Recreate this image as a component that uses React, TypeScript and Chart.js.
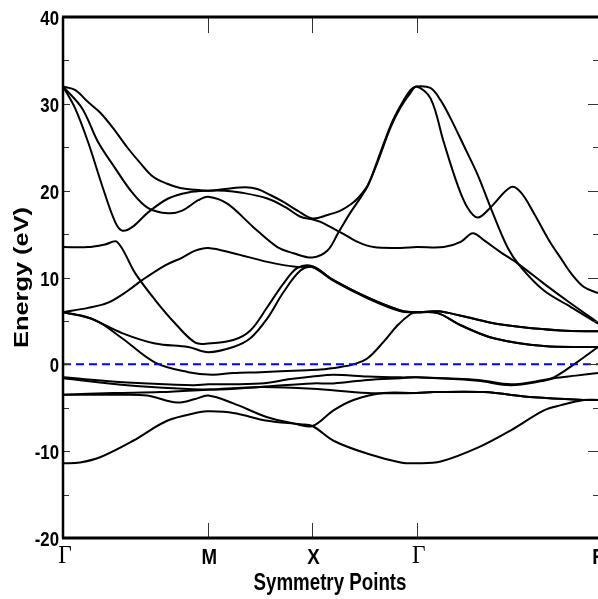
import React, { useEffect, useRef } from "react";
import { Chart, registerables } from "chart.js";

Chart.register(...registerables);

// ---- Axis data ----
const kPointPositions = [0, 1.45, 2.49, 3.53, 5.34];
const kPointLabels = ["Γ", "M", "X", "Γ", "R"];
const energyTicks = [-20, -10, 0, 10, 20, 30, 40];
const energyMinorTicks = [-15, -5, 5, 15, 25, 35];
const fermiLevel = 0;
const xTitle = "Symmetry Points";
const yTitle = "Energy (eV)";

// ---- Bands: [k, E(eV)] ----
const band1 = [[0,32.0],[0.12,31.6],[0.25,30.2],[0.37,29.0],[0.50,27.2],[0.64,25.0],[0.77,23.2],[0.90,21.6],[1.04,20.8],[1.17,20.3],[1.32,20.1],[1.45,20.0],[1.62,20.2],[1.82,20.4],[1.94,20.2],[2.07,19.5],[2.20,18.7],[2.34,17.7],[2.49,16.8],[2.64,17.2],[2.77,17.7],[2.87,18.4],[2.94,19.1],[3.04,20.6],[3.14,23.5],[3.27,27.5],[3.37,29.8],[3.47,31.6],[3.53,32.0],[3.67,31.8],[3.77,30.4],[3.87,28.3],[4.00,25.2],[4.14,21.8],[4.27,18.0],[4.44,13.4],[4.57,11.2],[4.80,8.5],[5.07,6.6],[5.34,4.7]];
const band2 = [[0,32.0],[0.12,29.5],[0.25,25.6],[0.39,20.6],[0.52,16.4],[0.59,15.4],[0.69,15.8],[0.85,17.5],[1.05,19.1],[1.25,19.8],[1.45,20.0],[1.62,20.0],[1.77,19.8],[2.04,19.1],[2.22,18.1],[2.37,17.0],[2.49,16.7],[2.57,16.4],[2.77,15.2],[2.94,14.1],[3.10,13.5],[3.37,13.4],[3.53,13.5],[3.80,13.5],[3.97,14.1],[4.09,15.1],[4.20,14.3],[4.37,12.9],[4.54,11.6],[4.80,9.3],[5.07,7.0],[5.34,4.8]];
const band3 = [[0,32.0],[0.19,29.5],[0.35,25.6],[0.52,22.6],[0.69,19.8],[0.85,18.0],[1.05,17.4],[1.19,17.7],[1.35,18.9],[1.45,19.3],[1.64,18.5],[1.90,15.8],[2.14,13.5],[2.30,12.8],[2.49,12.3],[2.64,13.1],[2.75,15.2],[2.87,17.5],[2.97,19.2],[3.04,20.5],[3.14,23.3],[3.27,27.3],[3.37,29.6],[3.47,31.3],[3.53,32.0],[3.67,30.6],[3.80,25.6],[3.94,20.6],[4.04,18.0],[4.14,16.9],[4.27,18.1],[4.47,20.4],[4.57,19.8],[4.70,17.4],[4.85,14.3],[4.97,12.2],[5.07,10.5],[5.20,8.9],[5.34,8.2]];
const band4 = [[0,13.5],[0.25,13.5],[0.42,13.8],[0.54,14.1],[0.72,10.5],[0.92,7.4],[1.12,4.7],[1.32,2.5],[1.45,2.4],[1.70,2.8],[1.87,3.9],[2.04,6.6],[2.20,9.3],[2.34,11.1],[2.49,11.3],[2.70,9.7],[3.04,7.7],[3.37,6.2],[3.53,6.0],[3.74,6.1],[3.97,5.6],[4.27,4.8],[4.57,4.3],[4.97,3.9],[5.34,3.8]];
const band5 = [[0,6.0],[0.25,6.5],[0.45,7.1],[0.65,8.5],[0.79,9.7],[1.02,11.4],[1.19,12.3],[1.32,13.1],[1.45,13.4],[1.70,12.8],[2.04,11.8],[2.34,11.2],[2.49,11.2],[2.70,9.6],[3.04,7.6],[3.37,6.1],[3.53,6.0],[3.74,5.9],[3.97,4.5],[4.30,3.0],[4.80,2.1],[5.34,2.0]];
const band6 = [[0,6.0],[0.25,5.4],[0.59,3.6],[0.92,2.4],[1.25,2.0],[1.45,1.4],[1.70,2.0],[1.87,3.0],[2.04,5.3],[2.20,8.3],[2.37,10.8],[2.49,11.2],[2.70,9.7],[3.04,7.7],[3.37,6.2],[3.53,6.0],[3.74,6.1],[3.97,5.6],[4.27,4.8],[4.57,4.3],[4.97,3.9],[5.34,3.8]];
const band7 = [[0,6.0],[0.32,5.1],[0.59,3.0],[0.92,0.2],[1.25,-0.9],[1.49,-1.2],[1.70,-1.0],[1.97,-0.9],[2.37,-0.7],[2.57,-0.6],[2.77,-0.3],[2.90,0.0],[3.04,0.7],[3.20,2.6],[3.34,4.5],[3.47,5.8],[3.53,6.0],[3.74,5.9],[3.97,4.5],[4.30,3.0],[4.80,2.1],[5.34,2.0]];
const band8 = [[0,-1.5],[0.64,-2.1],[1.30,-2.4],[1.45,-2.3],[1.97,-2.2],[2.27,-1.7],[2.49,-1.4],[2.70,-1.2],[3.04,-1.4],[3.37,-1.5],[3.53,-1.5],[4.14,-1.8],[4.47,-2.3],[4.80,-1.8],[4.90,-1.5],[5.10,0.0],[5.34,2.0]];
const band9 = [[0,-1.6],[0.64,-2.4],[1.47,-2.9],[1.97,-2.6],[2.49,-2.2],[2.70,-2.2],[3.04,-1.8],[3.37,-1.6],[3.53,-1.5],[4.14,-1.9],[4.47,-2.4],[4.80,-1.9],[4.90,-1.6],[5.12,-1.3],[5.34,-1.0]];
const band10 = [[0,-3.5],[0.50,-3.3],[0.97,-3.2],[1.47,-2.9],[1.97,-2.6],[2.49,-2.8],[3.04,-3.3],[3.53,-3.3],[3.70,-3.2],[4.20,-3.2],[4.70,-3.8],[5.20,-4.1],[5.34,-4.1]];
const band11 = [[0,-3.5],[0.57,-3.5],[0.84,-3.6],[1.14,-4.4],[1.32,-4.0],[1.45,-3.6],[1.70,-4.5],[2.04,-6.1],[2.30,-6.8],[2.49,-7.1],[2.70,-5.3],[2.90,-4.1],[3.20,-3.3],[3.53,-3.3],[3.70,-3.2],[4.20,-3.2],[4.70,-3.8],[5.20,-4.1],[5.34,-4.1]];
const band12 = [[0,-11.4],[0.17,-11.3],[0.37,-10.7],[0.70,-8.8],[1.04,-6.5],[1.37,-5.5],[1.45,-5.4],[1.70,-5.6],[2.04,-6.5],[2.37,-6.9],[2.49,-7.1],[2.70,-8.8],[3.04,-10.3],[3.37,-11.3],[3.53,-11.4],[3.77,-11.2],[4.14,-9.6],[4.47,-7.6],[4.80,-5.3],[4.97,-4.7],[5.20,-4.1],[5.34,-4.1]];

const bands = [band1, band2, band3, band4, band5, band6, band7, band8, band9, band10, band11, band12];

function drawText(ctx: CanvasRenderingContext2D, text: string, x: number, y: number, font: string, sx: number, align: CanvasTextAlign, targetWidth?: number, rotate?: boolean) {
  ctx.save();
  ctx.font = font;
  let s = sx;
  if (targetWidth) s = targetWidth / ctx.measureText(text).width;
  ctx.translate(x, y);
  if (rotate) ctx.rotate(-Math.PI / 2);
  ctx.scale(s, 1);
  ctx.textAlign = align;
  ctx.textBaseline = "alphabetic";
  ctx.fillStyle = "#000";
  ctx.fillText(text, 0, 0);
  ctx.restore();
}

const framePlugin = {
  id: "bandFrame",
  afterDatasetsDraw(chart: any) {
    const ctx: CanvasRenderingContext2D = chart.ctx;
    const { left, right, top, bottom } = chart.chartArea;
    const xs = chart.scales.x;
    const ys = chart.scales.y;
    const seg = (x1: number, y1: number, x2: number, y2: number) => {
      ctx.beginPath();
      ctx.moveTo(x1, y1);
      ctx.lineTo(x2, y2);
      ctx.stroke();
    };
    ctx.save();
    ctx.strokeStyle = "#333";
    ctx.lineWidth = 1;
    energyTicks.forEach((v) => {
      const py = Math.round(ys.getPixelForValue(v)) + 0.5;
      seg(left, py, left + 7, py);
      seg(right - 10, py, right, py);
    });
    energyMinorTicks.forEach((v) => {
      const py = Math.round(ys.getPixelForValue(v)) + 0.5;
      seg(left, py, left + 6, py);
      seg(right - 5, py, right, py);
    });
    kPointPositions.forEach((v, i) => {
      if (i === 0 || i === kPointPositions.length - 1) return;
      const px = Math.round(xs.getPixelForValue(v)) + 0.5;
      seg(px, top, px, top + 16);
      seg(px, bottom, px, bottom - 15);
    });
    ctx.strokeStyle = "#000";
    ctx.lineWidth = 3;
    seg(left - 1, top, right, top);
    seg(left - 1, bottom, right, bottom);
    ctx.lineWidth = 2.5;
    seg(left, top, left, bottom);

    // y tick labels
    energyTicks.forEach((v) => {
      const py = ys.getPixelForValue(v);
      drawText(ctx, String(v), 59, py + 8, "bold 21px 'Liberation Sans', Arial, sans-serif", 0.8, "right");
    });
    // x tick labels
    kPointPositions.forEach((v, i) => {
      const px = xs.getPixelForValue(v);
      const lab = kPointLabels[i];
      if (lab === "Γ") {
        drawText(ctx, lab, px + 2, 563, "26px 'Liberation Serif', 'Times New Roman', serif", 0.9, "center");
      } else {
        drawText(ctx, lab, px + 1, 564, "bold 22px 'Liberation Sans', Arial, sans-serif", 0.85, "center");
      }
    });
    // titles
    drawText(ctx, xTitle, 330, 590, "bold 23px 'Liberation Sans', Arial, sans-serif", 1, "center", 153);
    drawText(ctx, yTitle, 28, (top + bottom) / 2, "bold 21px 'Liberation Sans', Arial, sans-serif", 1, "center", 141, true);
    ctx.restore();
  },
};

export default function App() {
  const canvasRef = useRef<HTMLCanvasElement | null>(null);

  useEffect(() => {
    const canvas = canvasRef.current;
    if (!canvas) return;
    const datasets: any[] = [
      {
        data: [
          { x: kPointPositions[0], y: fermiLevel },
          { x: kPointPositions[kPointPositions.length - 1], y: fermiLevel },
        ],
        borderColor: "#0000ff",
        borderWidth: 2,
        borderDash: [8, 5],
        pointRadius: 0,
        tension: 0,
        order: 0,
      },
      ...bands.map((b) => ({
        data: b.map(([k, e]) => ({ x: k, y: e })),
        borderColor: "#000",
        borderWidth: 2,
        pointRadius: 0,
        tension: 0.35,
        order: 1,
      })),
    ];
    const chart = new Chart(canvas, {
      type: "line",
      data: { datasets },
      options: {
        animation: false,
        responsive: false,
        maintainAspectRatio: false,
        layout: { padding: { left: 63, right: 0, top: 17, bottom: 61 } },
        scales: {
          x: { type: "linear", min: 0, max: 5.34, display: false },
          y: { type: "linear", min: -20, max: 40, display: false },
        },
        plugins: { legend: { display: false }, tooltip: { enabled: false } },
        events: [],
      },
      plugins: [framePlugin],
    });
    return () => chart.destroy();
  }, []);

  return (
    <div style={{ position: "absolute", left: 0, top: 0, width: 598, height: 599, background: "#fff" }}>
      <canvas ref={canvasRef} width={598} height={599} style={{ display: "block" }} />
    </div>
  );
}
